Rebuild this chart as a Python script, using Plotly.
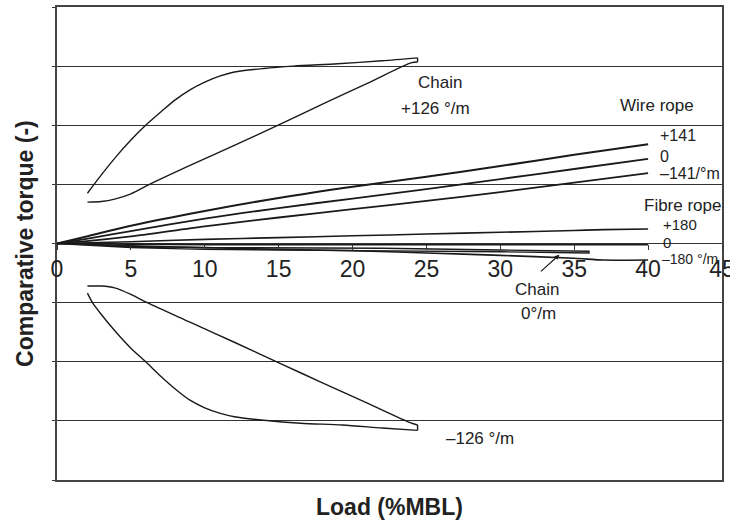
import plotly.graph_objects as go

# ---------------- data ----------------
# Chain +126 deg/m: loading branch (steep), end cap, unloading branch (flatter)
chain_pos_up_x = [2.06, 3.0, 4.0, 5.0, 6.0, 7.0, 8.0, 9.0, 10.0, 11.0, 12.0, 14.0, 16.0, 19.0, 22.0, 24.4]
chain_pos_up_y = [0.85, 1.16, 1.47, 1.75, 2.0, 2.22, 2.43, 2.6, 2.73, 2.83, 2.9, 2.96, 3.0, 3.04, 3.09, 3.14]
chain_pos_dn_x = [24.4, 24.0, 21.0, 18.0, 14.86, 12.0, 9.0, 6.26, 5.0, 3.9, 3.0, 2.06]
chain_pos_dn_y = [3.07, 3.06, 2.71, 2.36, 1.99, 1.66, 1.32, 1.0, 0.84, 0.75, 0.71, 0.70]

# Chain -126 deg/m
chain_neg_up_x = [2.06, 2.4, 3.0, 4.0, 5.0, 6.0, 7.0, 8.0, 9.0, 10.0, 11.0, 12.0, 14.0, 16.5, 19.3, 22.0, 24.4]
chain_neg_up_y = [-0.84, -1.0, -1.2, -1.5, -1.77, -2.0, -2.24, -2.46, -2.65, -2.78, -2.87, -2.93, -2.99,
                  -3.04, -3.07, -3.12, -3.16]
chain_neg_dn_x = [24.4, 23.9, 21.0, 18.0, 15.2, 12.0, 9.0, 6.1, 5.0, 3.9, 3.0, 2.06]
chain_neg_dn_y = [-3.07, -3.03, -2.7, -2.36, -2.04, -1.67, -1.33, -1.0, -0.86, -0.75, -0.72, -0.72]

# Chain 0 deg/m
chain0_x = [0, 5, 10, 15, 22, 30, 36, 36, 30, 20, 10, 5, 0]
chain0_y = [0, -0.05, -0.07, -0.075, -0.08, -0.11, -0.13, -0.16, -0.14, -0.12, -0.1, -0.07, 0]

# Wire rope
wire_x = [0, 2, 5, 10, 15, 20, 25, 30, 35, 40]
wire_p141 = [0, 0.12, 0.30, 0.55, 0.77, 0.96, 1.13, 1.31, 1.50, 1.68]
wire_0 = [0, 0.08, 0.21, 0.42, 0.60, 0.76, 0.92, 1.09, 1.26, 1.43]
wire_m141 = [0, 0.04, 0.12, 0.29, 0.44, 0.58, 0.72, 0.87, 1.03, 1.19]

# Fibre rope
fibre_x = [0, 5, 10, 15, 20, 25, 30, 35, 37, 40]
fibre_p180 = [0, 0.03, 0.07, 0.10, 0.13, 0.16, 0.19, 0.22, 0.235, 0.245]
fibre_0 = [0, -0.01, -0.02, -0.02, -0.02, -0.02, -0.02, -0.02, -0.02, -0.02]
fibre_m180 = [0, -0.04, -0.07, -0.10, -0.12, -0.16, -0.20, -0.25, -0.28, -0.28]

x_ticks = [0, 5, 10, 15, 20, 25, 30, 35, 40, 45]
x_range = [0, 45]

# ---------------- figure ----------------
LC = "#1a1a1a"
fig = go.Figure()


def add_line(x, y, w=1.4, smooth=True):
    fig.add_trace(go.Scatter(x=x, y=y, mode="lines",
                             line=dict(color=LC, width=w,
                                       shape="spline" if smooth else "linear",
                                       smoothing=0.8),
                             hoverinfo="skip", showlegend=False))


add_line(chain_pos_up_x, chain_pos_up_y, 1.4)
add_line([chain_pos_up_x[-1], chain_pos_dn_x[0]], [chain_pos_up_y[-1], chain_pos_dn_y[0]], 1.4, False)
add_line(chain_pos_dn_x, chain_pos_dn_y, 1.4)
add_line(chain_neg_up_x, chain_neg_up_y, 1.4)
add_line([chain_neg_up_x[-1], chain_neg_dn_x[0]], [chain_neg_up_y[-1], chain_neg_dn_y[0]], 1.4, False)
add_line(chain_neg_dn_x, chain_neg_dn_y, 1.4)
add_line(wire_x, wire_p141, 2.0)
add_line(wire_x, wire_0, 1.8)
add_line(wire_x, wire_m141, 1.8)
add_line(fibre_x, fibre_p180, 1.6)
add_line(fibre_x, fibre_0, 1.6)
add_line(fibre_x, fibre_m180, 1.6)
add_line(chain0_x, chain0_y, 1.4, False)

# invisible trace for the tick-label axis sitting on the zero line
fig.add_trace(go.Scatter(x=[0, 45], y=[0, 0], xaxis="x2", mode="lines",
                         line=dict(width=0), opacity=0, hoverinfo="skip", showlegend=False))

FONT = "Liberation Sans, Arial, sans-serif"
TXT = "#222222"

fig.update_layout(
    width=730, height=525,
    margin=dict(l=57, r=8, t=7, b=45, autoexpand=False),
    paper_bgcolor="white", plot_bgcolor="white",
    font=dict(family=FONT, color=TXT),
    xaxis=dict(range=x_range, showgrid=False, zeroline=False, showticklabels=False,
               showline=True, mirror=True, linecolor="#444444", linewidth=2, ticks="",
               automargin=False),
    xaxis2=dict(range=x_range, overlaying="x", anchor="free", position=0.5, side="bottom",
                tickvals=x_ticks, ticktext=[str(t) for t in x_ticks],
                ticks="outside", ticklen=5, tickcolor="#333333", tickwidth=1,
                tickfont=dict(size=23, family=FONT, color=TXT),
                ticklabeloverflow="allow", automargin=False,
                showgrid=False, zeroline=False, showline=False),
    yaxis=dict(range=[-4, 4], dtick=1, showgrid=True, gridcolor="#333333", gridwidth=1.3,
               zeroline=True, zerolinecolor="#333333", zerolinewidth=1.3,
               showticklabels=False, ticks="outside", ticklen=3, tickcolor="#333333",
               showline=True, mirror=True, linecolor="#444444", linewidth=2,
               automargin=False),
)

ann = [
    ("Chain", 25.9, 2.72, "center", 17),
    ("+126 °/m", 25.6, 2.28, "center", 17),
    ("Wire rope", 40.6, 2.33, "center", 17),
    ("+141", 40.7, 1.82, "left", 16),
    ("0", 40.7, 1.47, "left", 16),
    ("–141/°m", 40.7, 1.19, "left", 16),
    ("Fibre rope", 42.3, 0.65, "center", 17),
    ("+180", 40.9, 0.32, "left", 15),
    ("0", 40.9, 0.01, "left", 15),
    ("–180 °/m", 40.8, -0.26, "left", 14),
    ("Chain", 32.5, -0.77, "center", 17),
    ("0°/m", 32.6, -1.19, "center", 17),
    ("–126 °/m", 28.6, -3.29, "center", 17),
]
for t, x, y, xa, fs in ann:
    fig.add_annotation(x=x, y=y, text=t, showarrow=False, xanchor=xa, yanchor="middle",
                       font=dict(size=fs, family=FONT, color=TXT))

# arrow from "Chain 0°/m" label to its curve
fig.add_annotation(x=34.0, y=-0.19, text="", showarrow=True, ax=-20, ay=18,
                   arrowhead=2, arrowsize=0.8, arrowwidth=1.2, arrowcolor=LC)

# axis titles
fig.add_annotation(xref="paper", yref="paper", x=0.5, y=-0.057, text="<b>Load (%MBL)</b>",
                   showarrow=False, xanchor="center", yanchor="middle",
                   font=dict(size=23, family=FONT, color=TXT))
fig.add_annotation(xref="paper", yref="paper", x=-0.049, y=0.5, text="<b>Comparative torque (-)</b>",
                   showarrow=False, xanchor="center", yanchor="middle", textangle=-90,
                   font=dict(size=23, family=FONT, color=TXT))

fig.write_html("out.html")
